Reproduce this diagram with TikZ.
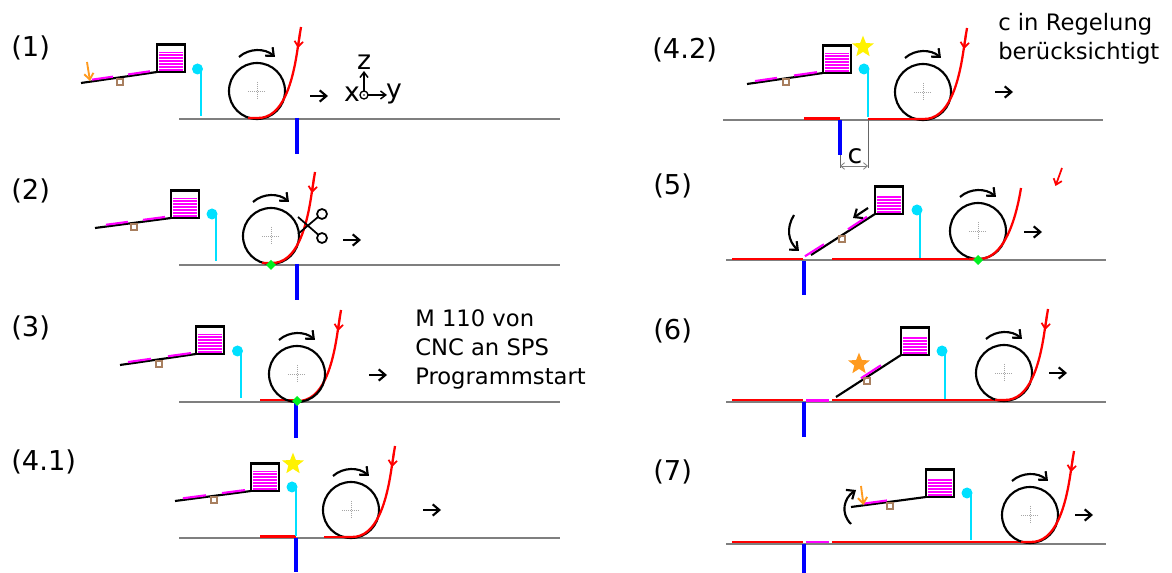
\documentclass[tikz,border=0pt]{standalone}
\usepackage{fontspec}
\setmainfont{DejaVu Sans}
\usetikzlibrary{arrows.meta,shapes.geometric}
\definecolor{tapeMag}{HTML}{FF00FF}
\definecolor{cyanP}{HTML}{00E0FF}
\definecolor{brownP}{HTML}{A87F5F}
\definecolor{orangeP}{HTML}{FF9A1E}
\definecolor{greenP}{HTML}{00F020}
\definecolor{groundP}{HTML}{7F7F7F}
\tikzset{
  blk/.style={black,line width=1.6pt},
  mover/.style={black,line width=1.6pt,-{Straight Barb[length=5pt,width=8.5pt]}},
  ground/.style={groundP,line width=1.5pt},
  redtape/.style={red,line width=1.7pt},
  magflat/.style={tapeMag,line width=2pt},
  magtape/.style={tapeMag,line width=1.6pt,yshift=1.3pt},
  bluebar/.style={blue,line width=3pt},
  cyanline/.style={cyanP,line width=1.9pt},
  lab/.style={anchor=west,inner sep=0pt,font=\fontsize{17}{21.75}\selectfont,align=left},
  numlab/.style={anchor=west,inner sep=0pt,font=\fontsize{20.5}{24}\selectfont},
  starshape/.style={star,star points=5,star point ratio=2.3,inner sep=0pt,minimum size=17pt},
  redhead/.style={red,line width=1.3pt,-{Straight Barb[length=4pt,width=6.5pt]}},
  orangehead/.style={orangeP,line width=1.4pt,-{Straight Barb[length=4.5pt,width=7pt]}},
  smallarr/.style={black,line width=1.1pt,-{Straight Barb[length=4pt,width=6pt]}}
}
\newcommand\rollr[2]{\begin{scope}[shift={(#1,#2)}]
  \draw[blk] (0,0) circle[radius=28];
  \draw[gray!70,line width=0.5pt,densely dotted] (-9,0)--(9,0) (0,-9)--(0,9);
  \draw[mover] (-18,-34) .. controls (-8,-43) and (8,-43) .. (18,-34);
\end{scope}}
\newcommand\redcurve[2]{\begin{scope}[shift={(#1,#2)}]
  \draw[redtape] (-9,28) -- (0,28) .. controls (26,29) and (36,-8) .. (41,-44) -- (44,-63);
  \draw[redhead] (43,-58) -- (41,-42);
\end{scope}}
\newcommand\feeder[5]{%
  \fill[tapeMag] (#1+2,#2-#5) rectangle (#1+26,#2-1);
  \foreach \k in {1,...,6}{\pgfmathsetmacro\yy{#2-1-3.1*\k+0.8}
    \ifdim\yy pt<\dimexpr#2pt-#5pt\relax\else\draw[white,line width=0.6pt] (#1+2,\yy) -- (#1+26,\yy);\fi}
  \draw[blk] (#1,#2) rectangle (#1+28,#2-27.5);
  \draw[blk] (#1,#2) -- (#3,#4);
}
\newcommand\brownsq[2]{\draw[brownP,line width=1.2pt] (#1-3,#2-3) rectangle (#1+3,#2+3);}
\newcommand\sensor[4]{%
  \draw[cyanline] (#1,#3) -- (#1,#4);
  \fill[cyanP] (#2,#3) circle[radius=5.5];}
\newcommand\grnd[3]{\draw[ground] (#1,#3) -- (#2,#3);}
\newcommand\bluebr[3]{\draw[bluebar] (#1,#2) -- (#1,#3);}
\newcommand\grn[2]{\fill[greenP] (#1-5,#2) -- (#1,#2-5) -- (#1+5,#2) -- (#1,#2+5) -- cycle;}
\newcommand\rarr[2]{\draw[mover] (#1,#2) -- (#1+18,#2);}
\begin{document}
\begin{tikzpicture}[x=0.75pt,y=-0.75pt]
\useasboundingbox (0,0) rectangle (1172,573);
\fill[white] (0,0) rectangle (1172,573);

% ---------- (1)
\node[numlab] (t1) at (11,48) {(1)};
\grnd{179}{560}{119.5}
\bluebr{296.5}{118}{154}
\sensor{201}{197.5}{69}{116}
\feeder{157}{72}{81}{83}{20}
\draw[magtape] (92,81.4)--(113,78.4) (128,76.2)--(150,73);
\brownsq{120}{82}
\draw[orangehead] (87,62)--(90,81);
\rollr{257}{91}\redcurve{257}{90}
\rarr{310}{96}
\draw[black,line width=1pt] (364,95) circle[radius=4];
\fill (364,95) circle[radius=0.9];
\draw[smallarr] (364,91)--(364,71);
\draw[smallarr] (368,95)--(387,95);
\node[lab,anchor=center,font=\fontsize{20}{24}\selectfont] (az) at (364,62) {z};
\node[lab,anchor=center,font=\fontsize{20}{24}\selectfont] (ax) at (352,94) {x};
\node[lab,anchor=center,font=\fontsize{20}{24}\selectfont] (ay) at (394,94) {y};

% ---------- (2)
\node[numlab] (t2) at (11,191) {(2)};
\grnd{179}{560}{265}
\bluebr{296.5}{264}{300}
\sensor{216}{212}{214}{261}
\feeder{171}{218}{95}{228}{20}
\draw[magtape] (106,226.5)--(128,223.6) (143,221.6)--(165,218.7);
\brownsq{134}{227}
\rollr{271}{236}\redcurve{271}{235}
\grn{271}{265}
\draw[black,line width=1.3pt] (322,214) circle[radius=5] (322,238) circle[radius=5];
\draw[black,line width=1.3pt] (318,217)--(298,234) (318,234.5)--(298,217);
\rarr{343}{240}

% ---------- (3)
\node[numlab] (t3) at (11,328) {(3)};
\grnd{179}{560}{402}
\bluebr{296}{402}{438}
\sensor{241}{237.5}{351}{398}
\feeder{196}{354}{120}{365}{20}
\draw[magtape] (128,363.8)--(151,360.5) (168,358)--(191,354.8);
\brownsq{159}{364}
\redcurve{297}{373}
\draw[redtape] (260,400)--(297,400);
\rollr{297}{374}
\grn{297}{401}
\rarr{369}{375}
\node[lab] (m3) at (415,349) {M 110 von\\CNC an SPS\\Programmstart};

% ---------- (4.1)
\node[numlab] (t41) at (11,462) {(4.1)};
\grnd{179}{560}{538}
\bluebr{296}{538}{572}
\draw[redtape] (260,536.5)--(296,536.5);
\sensor{296}{292}{487}{536}
\feeder{251}{491}{175}{501}{20}
\draw[magtape] (183,500)--(206,497) (222,494.8)--(245,491.8);
\brownsq{214}{500}
\rollr{351}{510}\redcurve{351}{509}
\draw[redtape] (324,537)--(351,537);
\rarr{423}{510}
\node[starshape,fill=yellow] (s41) at (293,464) {};

% ---------- (4.2)
\node[numlab] (t42) at (652,50) {(4.2)};
\grnd{723}{1103}{120.5}
\draw[gray!80!black,line width=0.5pt] (868,118)--(868,168) (840,120)--(840,168);
\draw[gray,line width=0.6pt,{Straight Barb[length=3pt,width=5pt]}-{Straight Barb[length=3pt,width=5pt]}] (840,166)--(868,166);
\node[lab,anchor=center,font=\fontsize{20}{24}\selectfont] (c42) at (855,156) {c};
\bluebr{840}{120}{155}
\draw[redtape] (804,118.5)--(840,118.5);
\sensor{868}{864}{69}{117}
\feeder{823}{73}{747}{84}{20}
\draw[magtape] (755,82.8)--(777,79.6) (794,77.2)--(817,73.9);
\brownsq{786}{82}
\rollr{923}{92}\redcurve{923}{91}
\draw[redtape] (868,119)--(923,119);
\rarr{995}{92}
\node[starshape,fill=yellow] (s42) at (863,47) {};
\node[lab] (m42) at (998,38.5) {c in Regelung\\berücksichtigt};

% ---------- (5)
\node[numlab] (t5) at (653,186) {(5)};
\grnd{726}{1106}{260.5}
\bluebr{804}{261}{295}
\draw[redtape] (732,258.7)--(803,258.7) (832,258.7)--(978,258.7);
\sensor{920}{917}{210}{258}
\feeder{875}{214}{811}{255}{18}
\draw[magtape] ([xshift=-0.8pt]849,231)--([xshift=-0.8pt]868,218.5);
\draw[magtape] ([xshift=-0.8pt]806,258)--([xshift=-0.8pt]825,246);
\brownsq{842}{239}
\draw[mover] (868,208)--(853,218);
\draw[mover] (794,215) .. controls (786,228) and (788,241) .. (799,251);
\rollr{978}{231}
\begin{scope}[shift={(978,231)}]
  \draw[redtape] (-9,28) -- (0,28) .. controls (26,29) and (38,-12) .. (43,-43);
\end{scope}
\grn{978}{260}
\rarr{1024}{232}
\draw[redhead] (1062,168)--(1055.5,186);

% ---------- (6)
\node[numlab] (t6) at (653,331) {(6)};
\grnd{726}{1106}{402.5}
\bluebr{804}{402}{437}
\draw[redtape] (732,400.3)--(803,400.3) (832,400.3)--(1004,400.3);
\draw[magflat] (806,400.3)--(829,400.3);
\sensor{945}{942}{351}{399}
\feeder{901}{355}{836}{397}{18}
\draw[magtape] ([xshift=-0.8pt]862,380)--([xshift=-0.8pt]882,367);
\brownsq{867}{381}
\rollr{1004}{373}\redcurve{1004}{372}
\rarr{1049}{373}
\node[starshape,fill=orangeP] (s6) at (859,364) {};

% ---------- (7)
\node[numlab] (t7) at (653,472) {(7)};
\grnd{726}{1106}{544}
\bluebr{804}{544}{573}
\draw[redtape] (732,542)--(803,542) (832,542)--(1030,542);
\draw[magflat] (806,542)--(829,542);
\sensor{971}{967}{493}{540}
\feeder{926}{497}{851}{507}{18}
\draw[magtape] (864,505.3)--(887,502.2);
\brownsq{890}{506}
\draw[orangehead] (861,486)--(863.5,505);
\draw[mover] (851,524) .. controls (840,513) and (844,498) .. (856,490);
\rollr{1030}{515}\redcurve{1030}{514}
\rarr{1075}{515}
\end{tikzpicture}
\end{document}
